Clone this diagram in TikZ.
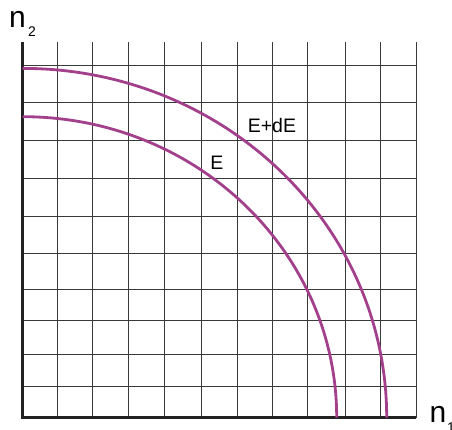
\documentclass[tikz,border=0pt]{standalone}
\usepackage{fontspec}
\setmainfont{Liberation Sans}
\definecolor{curvecol}{HTML}{A3408C}
\definecolor{gridcol}{HTML}{3A3A3A}
\definecolor{axiscol}{HTML}{222222}
\begin{document}
\begin{tikzpicture}[x=1pt,y=1pt,
  gridline/.style={draw=gridcol,line width=0.95pt},
  axisline/.style={draw=axiscol,line width=2.6pt},
  curve/.style={draw=curvecol,line width=2.8pt},
  lbl/.style={inner sep=0pt,anchor=base west,font=\fontsize{19.5}{20}\selectfont},
  axlbl/.style={inner sep=0pt,anchor=base west,font=\fontsize{30}{30}\selectfont},
  sublbl/.style={inner sep=0pt,anchor=base west,font=\fontsize{14}{14}\selectfont}]
\useasboundingbox (0,0) rectangle (452,430);
\coordinate (O) at (22.7,12.3);
\coordinate (Ytop) at (22.7,388);
\coordinate (Xend) at (416,12.3);
% grid
\foreach \y in {365,327.7,290,251.7,214,176.7,141,109.3,76,43.3}
  \draw[gridline] (22.7,\y) -- (416,\y);
\foreach \x in {57.7,92.8,128.3,164,201.7,237,272.7,307.7,345.3,380.7,416}
  \draw[gridline] (\x,12.3) -- (\x,388);
% axes
\draw[axisline] (Ytop) -- (O) -- (Xend);
% curves
\draw[curve] (22.7,361.6) arc[start angle=90,end angle=0,x radius=364,y radius=349.3];
\draw[curve] (22.7,313.3) arc[start angle=90,end angle=0,x radius=314,y radius=301];
% labels
\node[lbl] (edE) at (247.6,297) {E+dE};
\node[lbl] (e) at (210.2,260) {E};
\node[axlbl] (n2) at (9,402) {n};
\node[sublbl] (s2) at (28,393) {2};
\node[axlbl] (n1) at (429.5,7) {n};
\node[sublbl] (s1) at (447,-3) {1};
\end{tikzpicture}
\end{document}
